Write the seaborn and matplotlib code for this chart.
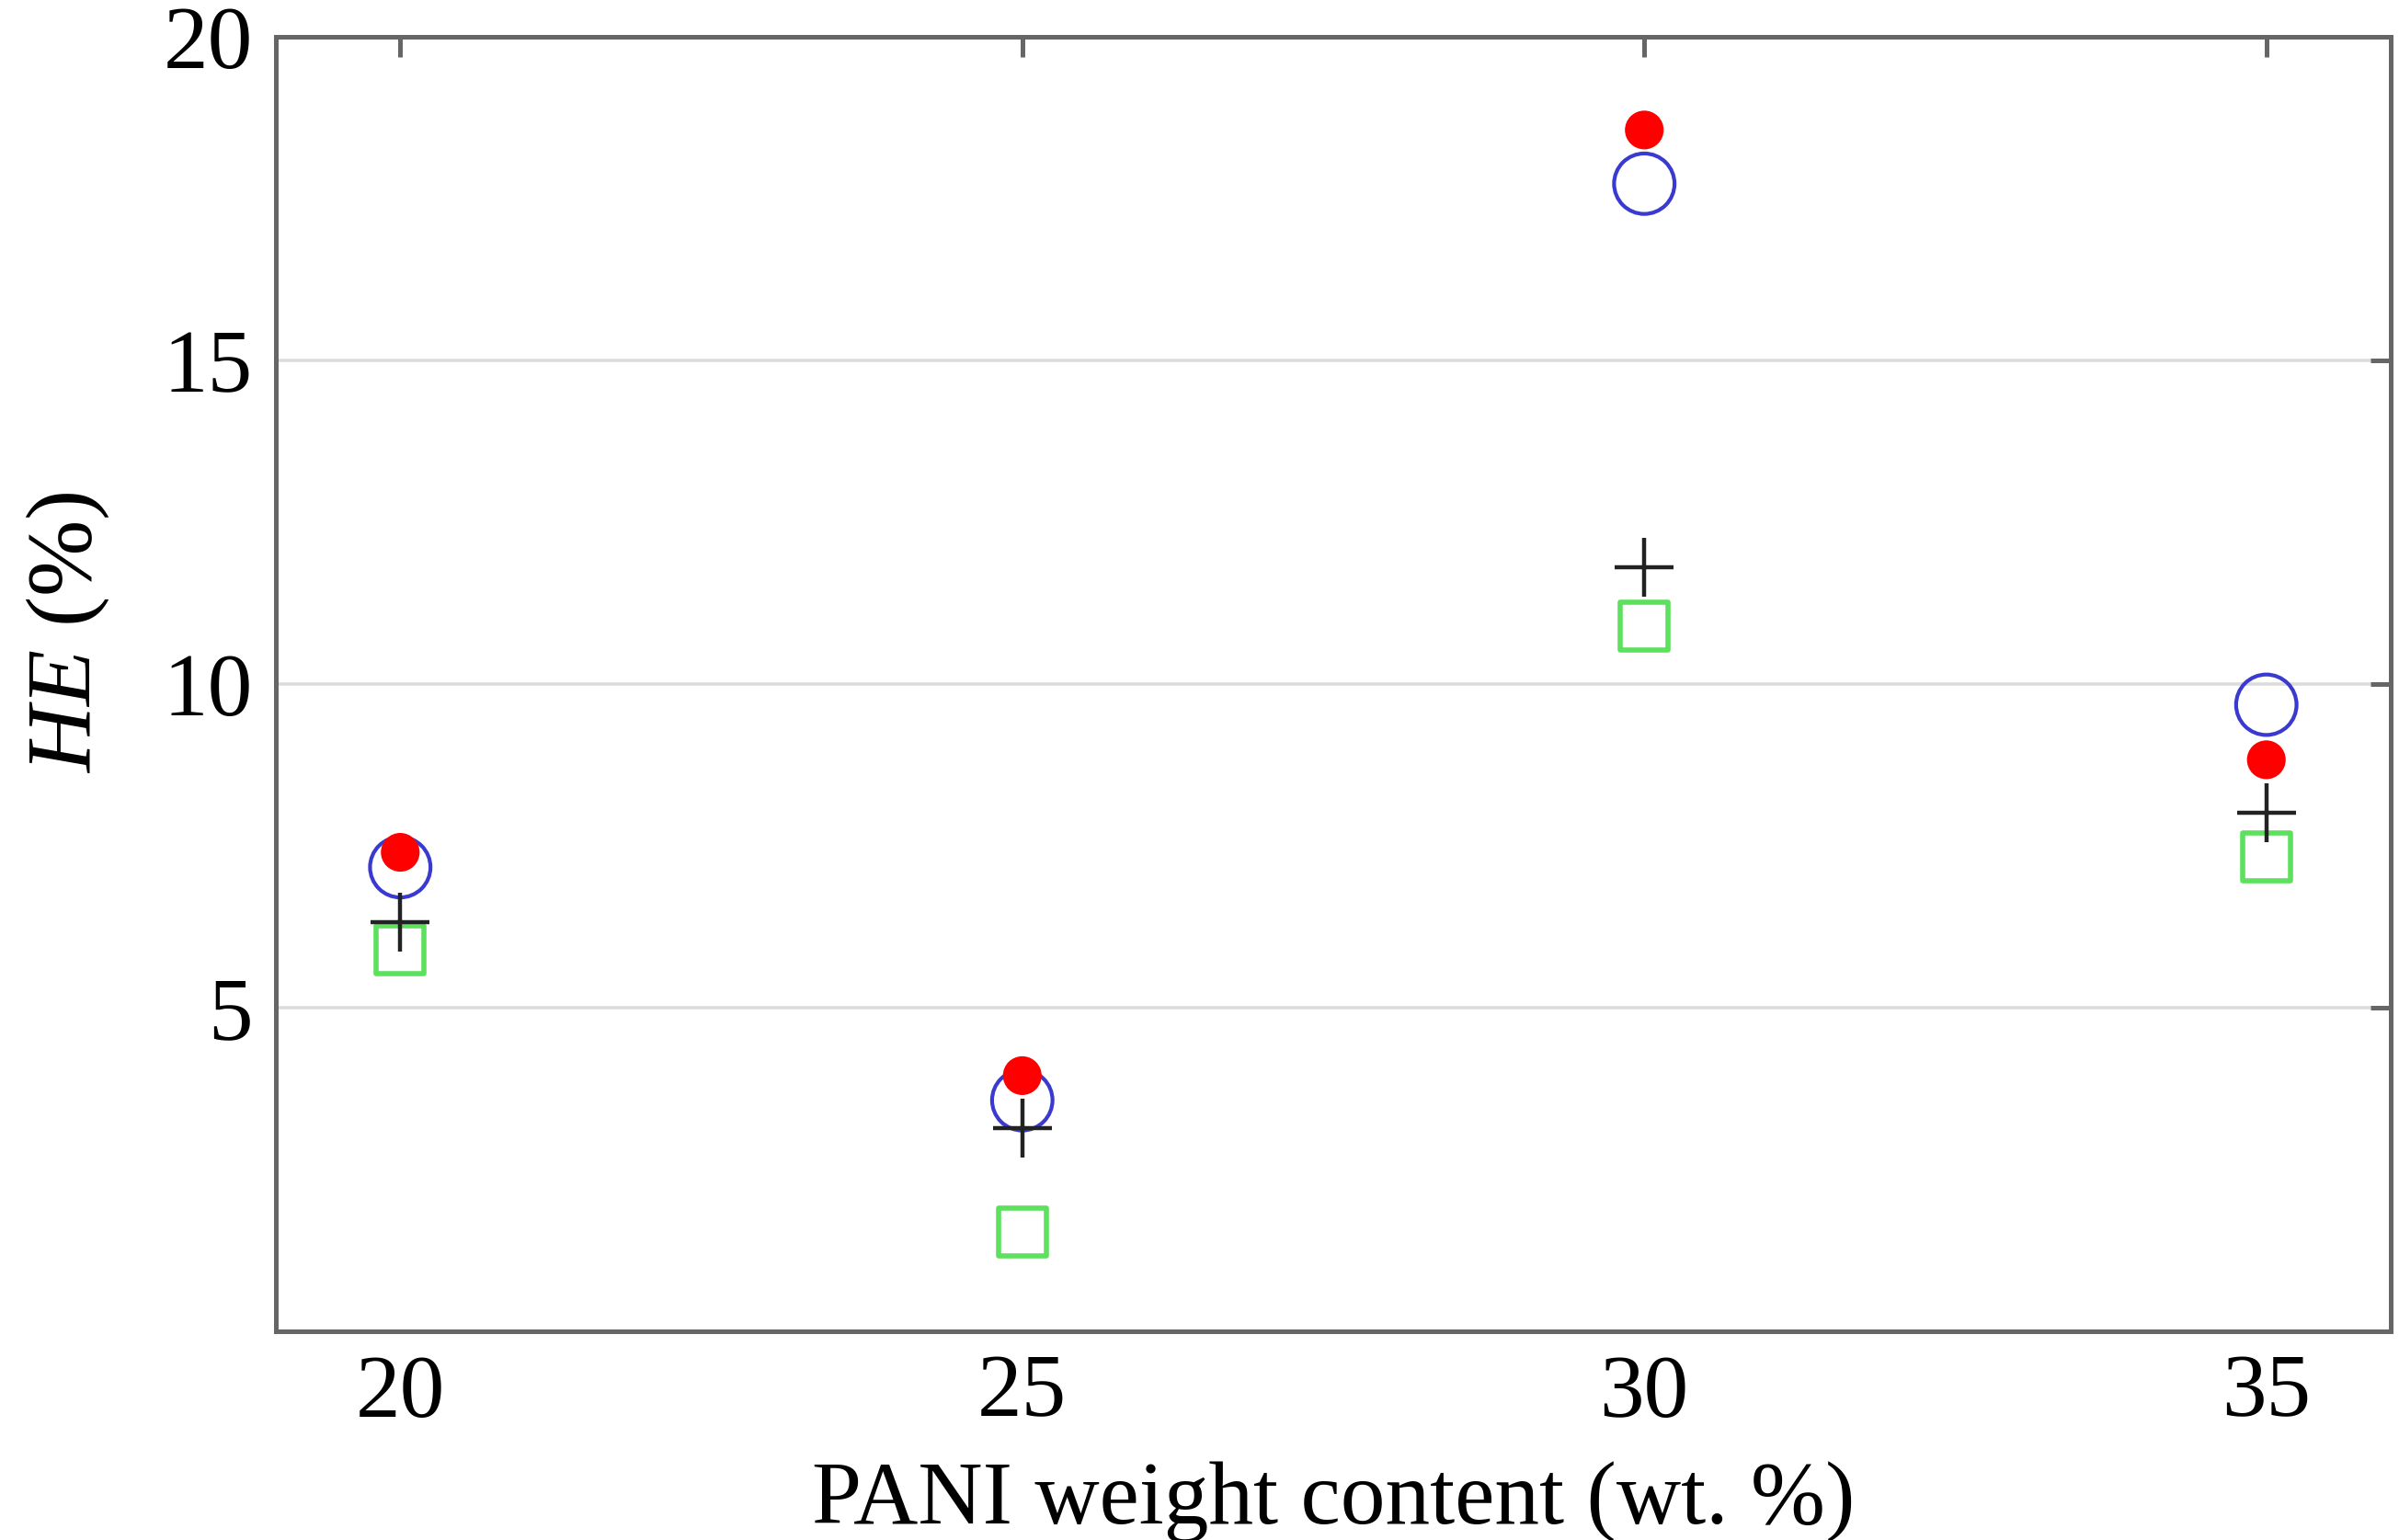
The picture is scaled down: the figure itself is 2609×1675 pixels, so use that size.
import matplotlib
matplotlib.use("Agg")
import matplotlib.pyplot as plt
import seaborn as sns
import pandas as pd

# ---- data ----
pani_wt = [20, 25, 30, 35]
he_red = [7.40, 3.95, 18.56, 8.83]      # filled red circles
he_blue = [7.17, 3.57, 17.73, 9.68]     # open blue circles
he_plus = [6.32, 3.14, 11.80, 8.01]     # black plus
he_green = [5.89, 1.53, 10.90, 7.33]    # open green squares
y_ticks = [5, 10, 15, 20]
x_ticks = [20, 25, 30, 35]

sns.set_theme(style="white")
plt.rcParams['font.family'] = ['Liberation Serif', 'DejaVu Serif']
plt.rcParams['mathtext.fontset'] = 'custom'
plt.rcParams['mathtext.rm'] = 'Liberation Serif'
plt.rcParams['mathtext.it'] = 'Liberation Serif:italic'

DPI = 200
fig = plt.figure(figsize=(2609 / DPI, 1675 / DPI), dpi=DPI)
ax = fig.add_axes([300 / 2609, 1 - 1448 / 1675, 2300 / 2609, 1408 / 1675])

df = pd.DataFrame({"x": pani_wt, "red": he_red, "blue": he_blue,
                   "plus": he_plus, "green": he_green})

sns.scatterplot(data=df, x="x", y="green", ax=ax, marker="s", s=350,
                facecolor="none", edgecolor="#5de05d", linewidth=2.0, zorder=3)
sns.scatterplot(data=df, x="x", y="blue", ax=ax, marker="o", s=560,
                facecolor="none", edgecolor="#3a3ad0", linewidth=1.5, zorder=4)
sns.scatterplot(data=df, x="x", y="plus", ax=ax, marker="+", s=520,
                color="#222222", linewidth=1.6, zorder=5)
sns.scatterplot(data=df, x="x", y="red", ax=ax, marker="o", s=230,
                color="#ff0000", edgecolor="none", linewidth=0, zorder=6)

ax.set_xlim(19, 36)
ax.set_ylim(0, 20)
ax.set_xticks(x_ticks)
ax.set_yticks(y_ticks)
ax.set_xticklabels([str(t) for t in x_ticks])
ax.set_yticklabels([str(t) for t in y_ticks])

ax.yaxis.grid(True, color="#dcdcdc", linewidth=1.3)
ax.xaxis.grid(False)
ax.set_axisbelow(True)

for sp in ax.spines.values():
    sp.set_visible(True)
    sp.set_color("#666666")
    sp.set_linewidth(1.8)

ax.tick_params(axis="both", which="major", direction="in", length=8,
               width=1.8, color="#666666", top=True, right=True,
               labelsize=35, labelcolor="black", pad=9)

ax.set_xlabel("PANI weight content (wt. %)", fontsize=35, labelpad=10,
              color="black")
ax.set_ylabel(r"$HE$ (%)", fontsize=36, color="black")
ax.yaxis.set_label_coords(-0.078, 0.54)

fig.savefig("out.png", dpi=DPI, facecolor="white")
